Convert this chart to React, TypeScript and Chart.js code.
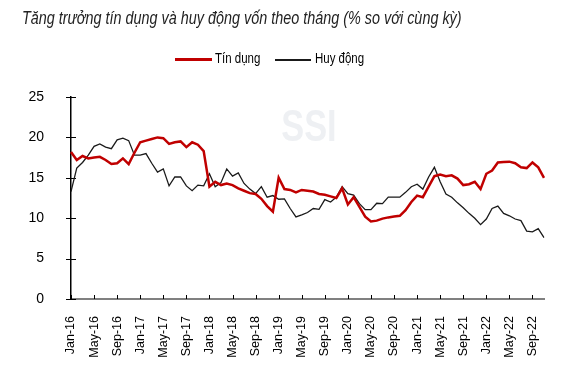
import React, { useEffect, useRef } from "react";
import { Chart, registerables } from "chart.js";

Chart.register(...registerables);

const monthNames = ["Jan", "Feb", "Mar", "Apr", "May", "Jun", "Jul", "Aug", "Sep", "Oct", "Nov", "Dec"];
const years = ["16", "17", "18", "19", "20", "21", "22"];

// Tín dụng (% yoy), Jan-16 .. Nov-22
const tinDung = [
  18.2, 17.2, 17.7, 17.4, 17.5, 17.6, 17.2, 16.7, 16.8, 17.4, 16.7, 18.1,
  19.4, 19.6, 19.8, 20.0, 19.9, 19.2, 19.4, 19.5, 18.8, 19.4, 19.1, 18.3,
  13.9, 14.5, 14.1, 14.3, 14.1, 13.7, 13.4, 13.1, 13.0, 12.4, 11.5, 10.8,
  15.0, 13.6, 13.5, 13.2, 13.5, 13.4, 13.3, 13.0, 12.9, 12.7, 12.5, 13.7,
  11.7, 12.6, 11.4, 10.2, 9.6, 9.7, 9.95, 10.1, 10.2, 10.3, 11.0, 12.0,
  12.8, 12.6, 13.9, 15.2, 15.4, 15.2, 15.3, 14.9, 14.1, 14.2, 14.5, 13.6,
  15.5, 15.9, 16.9, 16.95, 17.0, 16.8, 16.3, 16.2, 16.9, 16.3, 15.0,
];

// Huy động (% yoy), Jan-16 .. Nov-22
const huyDong = [
  13.3, 16.2, 16.9, 17.8, 18.9, 19.2, 18.8, 18.6, 19.7, 19.9, 19.6, 17.8,
  17.8, 18.0, 16.8, 15.7, 16.1, 14.0, 15.1, 15.1, 14.0, 13.4, 14.1, 14.0,
  15.5, 13.9, 14.4, 16.1, 15.2, 15.6, 14.3, 13.6, 13.05, 13.9, 12.6, 12.8,
  12.35, 12.4, 11.2, 10.15, 10.4, 10.7, 11.2, 11.1, 12.3, 12.0, 12.6, 13.9,
  13.05, 12.85, 11.8, 11.05, 11.05, 11.85, 11.8, 12.6, 12.6, 12.6, 13.2, 13.9,
  14.2, 13.6, 15.1, 16.3, 14.5, 13.0, 12.6, 11.9, 11.3, 10.6, 10.0, 9.2,
  9.9, 11.2, 11.5, 10.6, 10.3, 9.9, 9.7, 8.4, 8.3, 8.7, 7.6,
];

const yTicks = [0, 5, 10, 15, 20, 25];

const labels: string[] = tinDung.map(
  (_, i) => `${monthNames[i % 12]}-${years[Math.floor(i / 12)]}`
);

const FONT = "'Liberation Sans', Arial, sans-serif";

const decorPlugin = {
  id: "decor",
  beforeDatasetsDraw(chart: any) {
    const { ctx, chartArea, scales } = chart;
    ctx.save();
    // watermark
    ctx.save();
    ctx.translate(309, 129);
    ctx.scale(0.78, 1);
    ctx.fillStyle = "#eef0f3";
    ctx.font = `bold 44px ${FONT}`;
    ctx.textAlign = "center";
    ctx.textBaseline = "middle";
    ctx.fillText("SSI", 0, 0);
    ctx.restore();
    // x tick marks (inside)
    ctx.strokeStyle = "#000";
    ctx.lineWidth = 1;
    const xs = scales.x;
    for (let i = 0; i < labels.length; i += 4) {
      const px = Math.round(xs.getPixelForValue(i)) + 0.5;
      ctx.beginPath();
      ctx.moveTo(px, chartArea.bottom);
      ctx.lineTo(px, chartArea.bottom - 4);
      ctx.stroke();
    }
    // y tick marks (cross)
    const ys = scales.y;
    for (const v of yTicks) {
      const py = Math.round(ys.getPixelForValue(v)) + 0.5;
      ctx.beginPath();
      ctx.moveTo(chartArea.left - 5, py);
      ctx.lineTo(chartArea.left + 5, py);
      ctx.stroke();
    }
    ctx.restore();
  },
};

const narrowText = (scale: number): React.CSSProperties => ({
  display: "inline-block",
  transform: `scaleX(${scale})`,
  transformOrigin: "left center",
  whiteSpace: "nowrap",
});

export default function App() {
  const ref = useRef<HTMLCanvasElement | null>(null);

  useEffect(() => {
    if (!ref.current) return;
    const chart = new Chart(ref.current, {
      type: "line",
      data: {
        labels,
        datasets: [
          {
            label: "Tín dụng",
            data: tinDung,
            borderColor: "#c00000",
            borderWidth: 2.5,
            pointRadius: 0,
            tension: 0,
          },
          {
            label: "Huy động",
            data: huyDong,
            borderColor: "#1a1a1a",
            borderWidth: 1.3,
            pointRadius: 0,
            tension: 0,
          },
        ],
      },
      options: {
        animation: false,
        responsive: false,
        maintainAspectRatio: false,
        layout: { padding: { top: 97, right: 37, left: 0, bottom: 0 } },
        plugins: {
          legend: { display: false },
          title: { display: false },
          tooltip: { enabled: false },
        },
        scales: {
          x: {
            type: "category",
            offset: false,
            grid: { display: false },
            border: { display: true, color: "#808080", width: 2 },
            afterFit: (s: any) => {
              s.height = 87;
            },
            ticks: {
              autoSkip: false,
              maxRotation: 90,
              minRotation: 90,
              padding: 9,
              color: "#000",
              font: { family: FONT, size: 12.5 },
              callback: (_v: any, idx: number) => (idx % 4 === 0 ? labels[idx] : null),
            },
          },
          y: {
            min: 0,
            max: 25,
            grid: { display: false },
            border: { display: true, color: "#000", width: 1.5 },
            afterFit: (s: any) => {
              s.width = 71;
            },
            ticks: {
              stepSize: 5,
              padding: 19,
              color: "#000",
              font: { family: FONT, size: 14 },
            },
          },
        },
      },
      plugins: [decorPlugin],
    });
    return () => chart.destroy();
  }, []);

  return (
    <div style={{ position: "absolute", left: 0, top: 0, width: 581, height: 386, background: "#fff" }}>
      <canvas ref={ref} width={581} height={386} style={{ position: "absolute", left: 0, top: 0 }} />
      <div
        style={{
          position: "absolute",
          left: 22,
          top: 8,
          fontFamily: FONT,
          fontStyle: "italic",
          fontSize: 18,
          color: "#222",
          ...narrowText(0.8),
        }}
      >
        Tăng trưởng tín dụng và huy động vốn theo tháng (% so với cùng kỳ)
      </div>
      <div style={{ position: "absolute", left: 175, top: 58, width: 37, height: 3, background: "#c00000" }} />
      <div style={{ position: "absolute", left: 215, top: 50, fontFamily: FONT, fontSize: 14, color: "#000", ...narrowText(0.82) }}>
        Tín dụng
      </div>
      <div style={{ position: "absolute", left: 275, top: 59, width: 36, height: 1.5, background: "#1a1a1a" }} />
      <div style={{ position: "absolute", left: 315, top: 50, fontFamily: FONT, fontSize: 14, color: "#000", ...narrowText(0.82) }}>
        Huy động
      </div>
    </div>
  );
}
